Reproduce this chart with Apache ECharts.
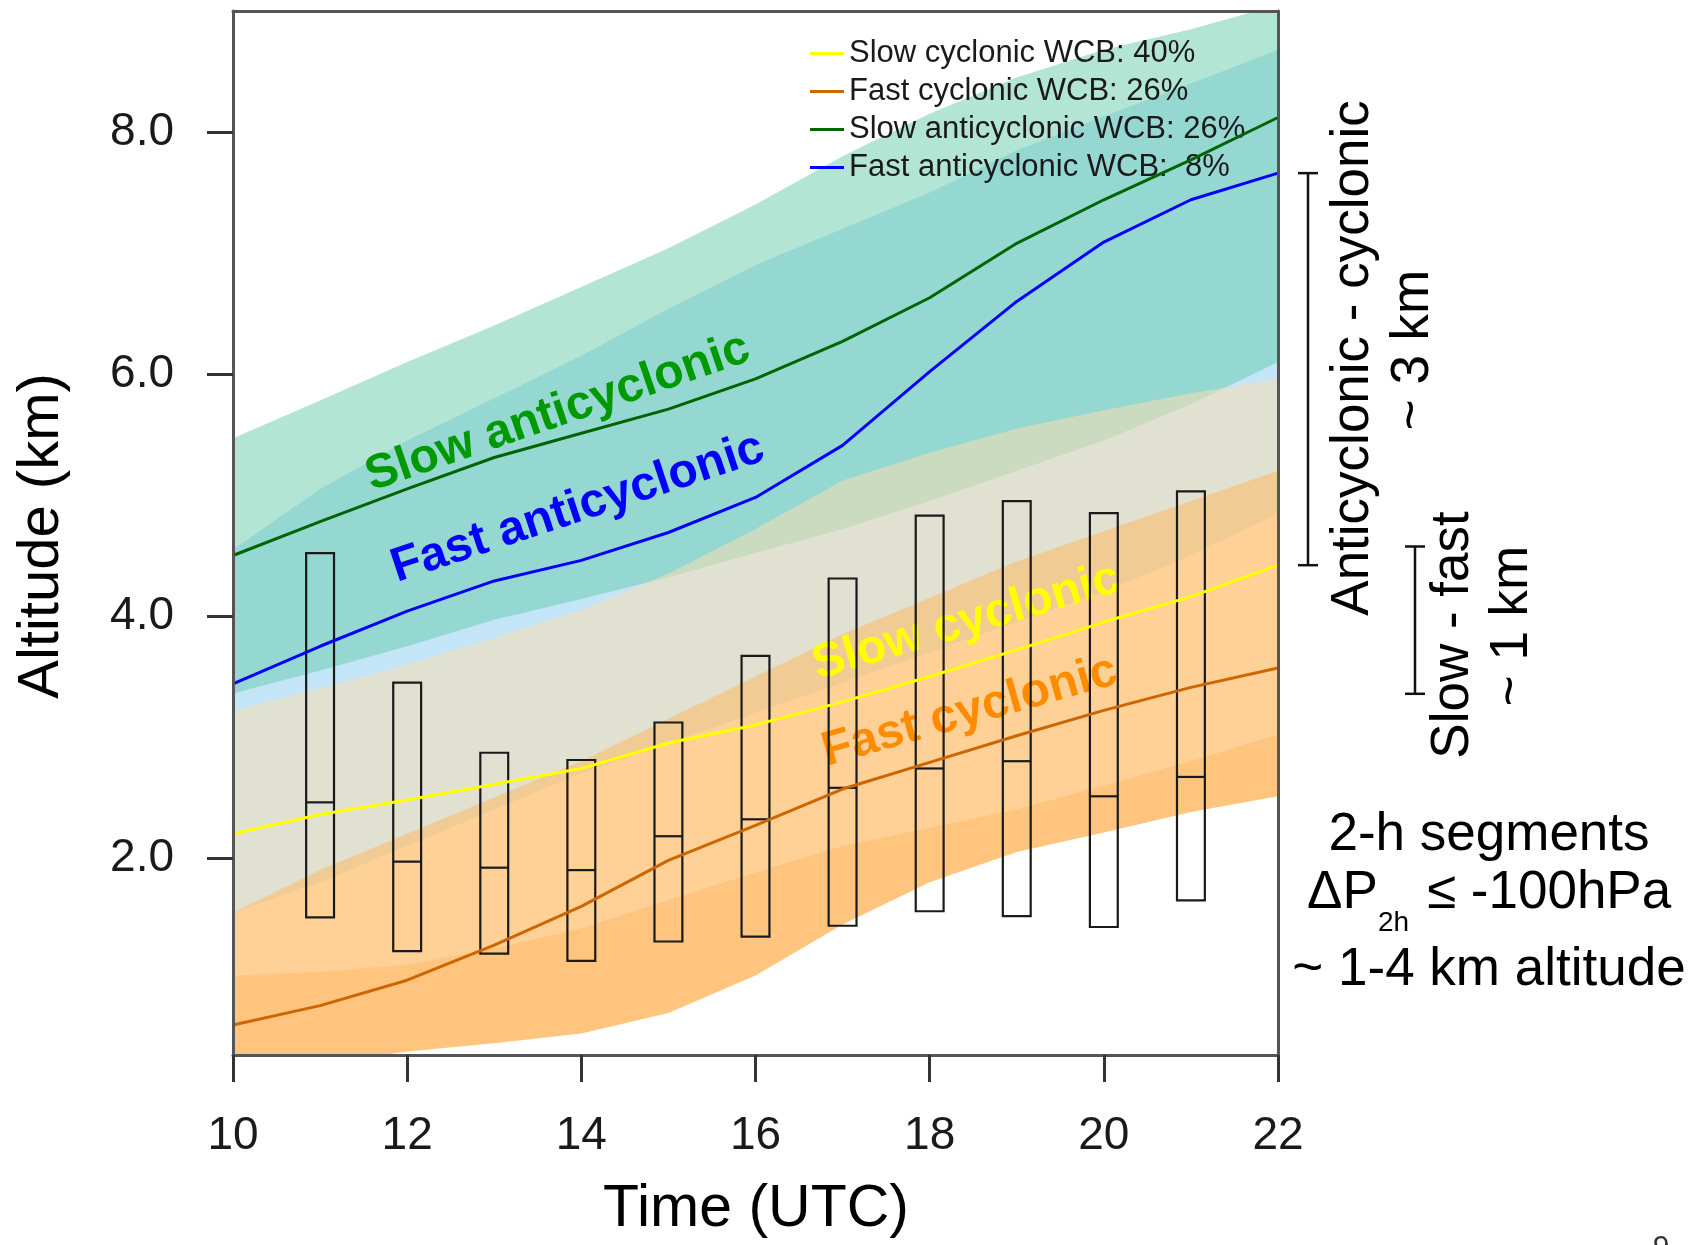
<!DOCTYPE html>
<html><head><meta charset="utf-8">
<script src="https://cdn.jsdelivr.net/npm/echarts@6/dist/echarts.min.js"></script>
<style>html,body{margin:0;padding:0;background:#fff}#c{width:1707px;height:1245px}</style>
</head><body><div id="c"></div>
<script>
// ---------------- data ----------------
const hours = [10,11,12,13,14,15,16,17,18,19,20,21,22];
const yTicks = [2,4,6,8];

// median altitude (km) of each WCB class
const slowCyclonic     = [2.20,2.36,2.48,2.61,2.74,2.95,3.10,3.29,3.50,3.72,3.95,4.16,4.42];
const fastCyclonic     = [0.62,0.78,0.99,1.28,1.60,1.98,2.27,2.57,2.79,3.01,3.22,3.41,3.57];
const slowAnticyclonic = [4.50,4.78,5.05,5.31,5.51,5.71,5.96,6.27,6.63,7.08,7.44,7.77,8.12];
const fastAnticyclonic = [3.44,3.75,4.04,4.29,4.46,4.69,4.98,5.41,6.02,6.60,7.09,7.44,7.66];

// spread bands (low / high) of each WCB class
const slowCycBandLow   = [1.03,1.06,1.12,1.25,1.42,1.65,1.88,2.10,2.25,2.40,2.60,2.80,3.02];
const slowCycBandHigh  = [3.22,3.40,3.60,3.82,4.05,4.35,4.72,5.12,5.35,5.55,5.70,5.84,5.96];
const fastCycBandLow   = [0.20,0.30,0.40,0.47,0.55,0.72,1.03,1.45,1.80,2.05,2.21,2.38,2.51];
const fastCycBandHigh  = [1.55,1.90,2.20,2.50,2.80,3.15,3.50,3.85,4.15,4.45,4.70,4.95,5.20];
const slowAntiBandLow  = [3.36,3.55,3.75,3.97,4.14,4.32,4.52,4.72,4.95,5.20,5.45,5.75,6.10];
const slowAntiBandHigh = [5.47,5.78,6.10,6.40,6.72,7.04,7.40,7.80,8.15,8.45,8.68,8.85,9.05];
const fastAntiBandLow  = [1.55,1.80,2.10,2.40,2.70,2.95,3.20,3.45,3.70,3.95,4.20,4.50,4.85];
const fastAntiBandHigh = [4.55,5.05,5.45,5.80,6.15,6.54,6.90,7.20,7.50,7.85,8.13,8.40,8.68];

// 2-h segments (bottom, median, top)
const segHours  = [11,12,13,14,15,16,17,18,19,20,21];
const segLow    = [1.51,1.23,1.21,1.15,1.31,1.35,1.44,1.56,1.52,1.43,1.65];
const segMedian = [2.46,1.97,1.92,1.90,2.18,2.32,2.58,2.74,2.80,2.51,2.67];
const segHigh   = [4.52,3.45,2.87,2.81,3.12,3.67,4.31,4.83,4.95,4.85,5.03];

const names = ['Slow cyclonic WCB: 40%','Fast cyclonic WCB: 26%','Slow anticyclonic WCB: 26%','Fast anticyclonic WCB:  8%'];
const lineColors = ['#ffff00','#cd6600','#006400','#0000ff'];

// --------------- chart ----------------
const FONT = '"Liberation Sans", Arial, Helvetica, sans-serif';
const chart = echarts.init(document.getElementById('c'), null, {renderer:'canvas'});

function pairs(arr){ return hours.map((h,i)=>[h, arr[i]]); }
function band(low, high, color){
  return {
    type:'custom', silent:true, z:1,
    data: hours.map((h,i)=>[h, low[i], high[i]]),
    encode:{x:0, y:[1,2]},
    renderItem:(params, api)=>{
      if (params.dataIndexInside !== 0) return null;
      const n = hours.length, pts = [];
      for (let i=0;i<n;i++) pts.push(api.coord([api.value(0,i), api.value(2,i)]));
      for (let i=n-1;i>=0;i--) pts.push(api.coord([api.value(0,i), api.value(1,i)]));
      const cs = params.coordSys;
      return {type:'polygon', shape:{points:pts}, style:{fill:color, stroke:null},
        clipPath:{type:'rect', shape:{x:cs.x, y:cs.y, width:cs.width, height:cs.height}}};
    }
  };
}

// drawn in reverse legend order, semi-transparent
const series = [
  band(fastAntiBandLow, fastAntiBandHigh, 'rgba(135,203,240,0.5)'),
  band(slowAntiBandLow, slowAntiBandHigh, 'rgba(103,203,171,0.5)'),
  band(fastCycBandLow,  fastCycBandHigh,  'rgba(255,140,0,0.5)'),
  band(slowCycBandLow,  slowCycBandHigh,  'rgba(255,222,173,0.5)')
];
series.push({
  type:'custom', name:'segments', z:3, silent:true,
  data: segHours.map((h,i)=>[h, segLow[i], segMedian[i], segHigh[i]]),
  encode:{x:0, y:[1,2,3]},
  renderItem:(params, api)=>{
    const t = api.value(0), hw = 0.16;
    const a = api.coord([t-hw, api.value(3)]);
    const b = api.coord([t+hw, api.value(1)]);
    const m1 = api.coord([t-hw, api.value(2)]);
    const m2 = api.coord([t+hw, api.value(2)]);
    return {type:'group', children:[
      {type:'rect', shape:{x:a[0], y:a[1], width:b[0]-a[0], height:b[1]-a[1]}, style:{fill:'none', stroke:'#1a1a1a', lineWidth:2.2}},
      {type:'line', shape:{x1:m1[0], y1:m1[1], x2:m2[0], y2:m2[1]}, style:{stroke:'#1a1a1a', lineWidth:2.2}}
    ]};
  }
});
[slowCyclonic, fastCyclonic, slowAnticyclonic, fastAnticyclonic].forEach((arr,k)=>{
  series.push({type:'line', name:names[k], data:pairs(arr), symbol:'none', z:4,
    lineStyle:{color:lineColors[k], width:3}, itemStyle:{color:lineColors[k]}});
});

const axisLineStyle = {color:'#555', width:3};
const option = {
  animation:false,
  backgroundColor:'#fff',
  grid:{left:233, top:11, width:1045, height:1044, containLabel:false},
  legend:{data:names, orient:'vertical', left:810, top:38, itemWidth:34, itemHeight:3, itemGap:7, icon:'rect', padding:0,
    textStyle:{fontSize:31, fontFamily:FONT, color:'#1a1a1a', lineHeight:31}},
  xAxis:[
    {type:'value', min:10, max:22, interval:2, position:'bottom', z:10,
     axisLine:{show:true, onZero:false, lineStyle:axisLineStyle},
     axisTick:{show:true, inside:false, length:27, lineStyle:{color:'#333', width:3}},
     axisLabel:{fontSize:46, fontFamily:FONT, color:'#1a1a1a', margin:58, lineHeight:46},
     splitLine:{show:false}},
    {type:'value', min:10, max:22, interval:2, position:'top', z:10,
     axisLine:{show:true, onZero:false, lineStyle:axisLineStyle}, axisTick:{show:false}, axisLabel:{show:false}, splitLine:{show:false}}
  ],
  yAxis:[
    {type:'value', min:0.372, max:9.0, position:'left', z:10,
     axisLine:{show:true, onZero:false, lineStyle:axisLineStyle},
     axisTick:{show:true, inside:false, length:26, lineStyle:{color:'#333', width:3}, customValues:yTicks},
     axisLabel:{fontSize:46, fontFamily:FONT, color:'#1a1a1a', margin:59, customValues:yTicks, formatter:(v)=>Number(v).toFixed(1)},
     splitLine:{show:false}},
    {type:'value', min:0.372, max:9.0, position:'right', z:10,
     axisLine:{show:true, onZero:false, lineStyle:axisLineStyle}, axisTick:{show:false}, axisLabel:{show:false}, splitLine:{show:false}}
  ],
  series: series
};
chart.setOption(option);

// ----------- annotations -------------
function txt(text, x, y, size, opts){
  opts = opts || {};
  return {type:'text', x:x, y:y, rotation:opts.rot||0, z:opts.z||20, silent:true,
    style:{text:text, font:(opts.weight||'normal')+' '+size+'px '+FONT, fill:opts.color||'#000',
      align:opts.align||'center', textAlign:opts.align||'center', verticalAlign:'middle', textVerticalAlign:'middle'}};
}
const deg = Math.PI/180;
const labelDefs = [
  {text:'Slow anticyclonic', t:13.73, v:5.68, rot:19.0, color:'#009900'},
  {text:'Fast anticyclonic', t:13.96, v:4.89, rot:18.3, color:'#0000ff'},
  {text:'Slow cyclonic',     t:18.42, v:3.95, rot:16.3, color:'#ffff00'},
  {text:'Fast cyclonic',     t:18.46, v:3.21, rot:15.8, color:'#ff8c00'}
];
const g = [];
labelDefs.forEach(d=>{
  const p = chart.convertToPixel({gridIndex:0}, [d.t, d.v]);
  g.push(txt(d.text, p[0], p[1], 48, {rot:d.rot*deg, color:d.color, weight:'bold', z:2}));
});
// axis titles
g.push(txt('Altitude (km)', 42, 536, 58, {rot:90*deg}));
g.push(txt('Time (UTC)', 756, 1210, 59));
// right side annotations
g.push(txt('Anticyclonic - cyclonic', 1353, 358, 53, {rot:90*deg}));
g.push(txt('~ 3 km', 1413, 350, 53, {rot:90*deg}));
g.push(txt('Slow - fast', 1453, 635, 53, {rot:90*deg}));
g.push(txt('~ 1 km', 1512, 626, 53, {rot:90*deg}));
g.push(txt('2-h segments', 1489, 835, 53));
g.push(txt('\u0394P', 1307, 893, 53, {align:'left'}));
g.push(txt('2h', 1378, 923, 28, {align:'left'}));
g.push(txt('\u2264 -100hPa', 1427, 893, 53, {align:'left'}));
g.push(txt('~ 1-4 km altitude', 1489, 970, 53));
g.push(txt('9', 1661, 1248, 30, {color:'#333'}));
// brackets
const yTop = chart.convertToPixel({yAxisIndex:0}, fastAnticyclonic[fastAnticyclonic.length-1]);
const yBot = chart.convertToPixel({yAxisIndex:0}, slowCyclonic[slowCyclonic.length-1]);
function bracket(x, y1, y2){
  const st = {stroke:'#111', lineWidth:2.5};
  return [
    {type:'line', shape:{x1:x, y1:y1, x2:x, y2:y2}, style:st, silent:true},
    {type:'line', shape:{x1:x-10, y1:y1, x2:x+10, y2:y1}, style:st, silent:true},
    {type:'line', shape:{x1:x-10, y1:y2, x2:x+10, y2:y2}, style:st, silent:true}
  ];
}
bracket(1308, yTop, yBot).forEach(e=>g.push(e));
bracket(1415, 546.5, 693.8).forEach(e=>g.push(e));
chart.setOption({graphic:{elements:g}});
</script>
</body></html>
